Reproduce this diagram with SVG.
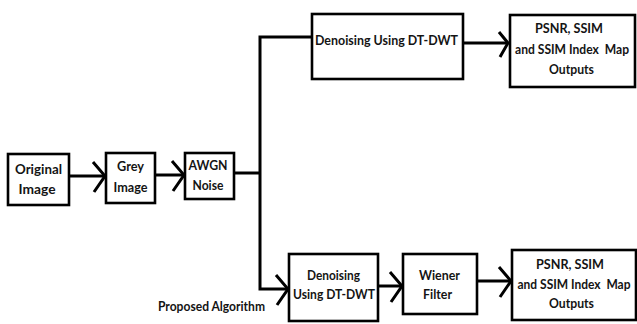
<svg xmlns="http://www.w3.org/2000/svg" width="637" height="324" viewBox="0 0 637 324">
<style>
.box{fill:#fff;stroke:#000;stroke-width:2.6}
.t{font-family:Lato,"Liberation Sans",sans-serif;font-weight:bold;font-size:14px;fill:#141414;text-anchor:middle;white-space:pre}
.s{font-size:12.5px}
.c{fill:none;stroke:#000;stroke-width:3}
</style>
<defs>
<marker id="ah" markerUnits="userSpaceOnUse" markerWidth="30" markerHeight="40" refX="0" refY="0" viewBox="-20 -20 30 40" orient="auto" overflow="visible">
<path d="M-12,-14 L0,0 L-11,16" fill="none" stroke="#000" stroke-width="3"/>
</marker>
<marker id="ahs" markerUnits="userSpaceOnUse" markerWidth="30" markerHeight="40" refX="0" refY="0" viewBox="-20 -20 30 40" orient="auto" overflow="visible">
<path d="M-9,-11 L0,0 L-8,14" fill="none" stroke="#000" stroke-width="3"/>
</marker>
</defs>
<rect width="637" height="324" fill="#fff"/>
<g id="connectors">
<line class="c" x1="69" y1="176" x2="105" y2="176" marker-end="url(#ah)"/>
<line class="c" x1="155" y1="175" x2="184" y2="175" marker-end="url(#ah)"/>
<polyline class="c" points="234,173 260,173"/>
<polyline class="c" points="312,37 260,37 260,289 288,289" marker-end="url(#ah)"/>
<line class="c" x1="463" y1="43" x2="508" y2="43" marker-end="url(#ahs)"/>
<line class="c" x1="378" y1="286" x2="402" y2="286" marker-end="url(#ah)"/>
<line class="c" x1="477" y1="281" x2="511" y2="281" marker-end="url(#ah)"/>
</g>
<g id="original">
<rect class="box" x="8" y="154" width="61" height="51"/>
<text class="t" x="38.5" y="174" textLength="47" lengthAdjust="spacingAndGlyphs">Original</text>
<text class="t" x="37" y="194" textLength="37" lengthAdjust="spacingAndGlyphs">Image</text>
</g>
<g id="grey">
<rect class="box" x="106" y="153" width="49" height="50"/>
<text class="t" x="130.5" y="171" textLength="27" lengthAdjust="spacingAndGlyphs">Grey</text>
<text class="t" x="130.5" y="192" textLength="34" lengthAdjust="spacingAndGlyphs">Image</text>
</g>
<g id="awgn">
<rect class="box" x="185" y="153" width="49" height="46"/>
<text class="t" x="208" y="170" textLength="39" lengthAdjust="spacingAndGlyphs">AWGN</text>
<text class="t" x="208" y="190" textLength="31" lengthAdjust="spacingAndGlyphs">Noise</text>
</g>
<g id="denoise-top">
<rect class="box" x="312" y="14" width="151" height="65"/>
<text class="t" x="386.5" y="45" textLength="143" lengthAdjust="spacingAndGlyphs">Denoising Using DT-DWT</text>
</g>
<g id="psnr-top">
<rect class="box" x="510" y="15" width="125" height="72"/>
<text class="t" x="569" y="33" textLength="68" lengthAdjust="spacingAndGlyphs">PSNR, SSIM</text>
<text class="t s" x="572" y="54" textLength="114" lengthAdjust="spacingAndGlyphs">and SSIM Index  Map</text>
<text class="t" x="571.5" y="74" textLength="45" lengthAdjust="spacingAndGlyphs">Outputs</text>
</g>
<g id="denoise-bottom">
<rect class="box" x="289" y="254" width="89" height="67"/>
<text class="t" x="333.5" y="280" textLength="53" lengthAdjust="spacingAndGlyphs">Denoising</text>
<text class="t" x="334" y="299" textLength="82" lengthAdjust="spacingAndGlyphs">Using DT-DWT</text>
</g>
<g id="wiener">
<rect class="box" x="403" y="254" width="74" height="60"/>
<text class="t" x="439.5" y="280" textLength="41" lengthAdjust="spacingAndGlyphs">Wiener</text>
<text class="t" x="437.5" y="299" textLength="29" lengthAdjust="spacingAndGlyphs">Filter</text>
</g>
<g id="psnr-bottom">
<rect class="box" x="512" y="250" width="124" height="70"/>
<text class="t" x="570" y="269" textLength="68" lengthAdjust="spacingAndGlyphs">PSNR, SSIM</text>
<text class="t s" x="574" y="289" textLength="113" lengthAdjust="spacingAndGlyphs">and SSIM Index  Map</text>
<text class="t" x="571.5" y="308" textLength="45" lengthAdjust="spacingAndGlyphs">Outputs</text>
</g>
<g id="label">
<text class="t" x="211.5" y="311" textLength="107" lengthAdjust="spacingAndGlyphs">Proposed Algorithm</text>
</g>
</svg>
